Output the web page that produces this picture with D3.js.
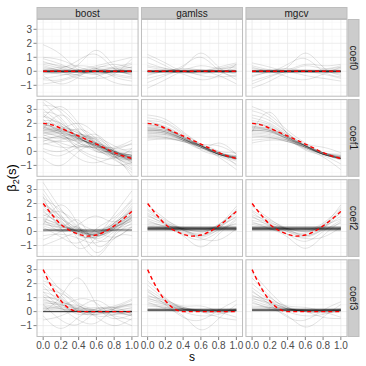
<!DOCTYPE html>
<html>
<head>
<meta charset="utf-8">
<script src="https://cdn.jsdelivr.net/npm/d3@7"></script>
<style>
  body { margin: 0; background: #fff; }
  text { font-family: "Liberation Sans", Arial, Helvetica, sans-serif; }
</style>
</head>
<body>
<svg id="chart" width="366" height="366"></svg>
<script>
// facets
const methods = ["boost", "gamlss", "mgcv"];
const coefs = ["coef0", "coef1", "coef2", "coef3"];
const xTicks = [0, 0.2, 0.4, 0.6, 0.8, 1.0];
const yTicks = [-1, 0, 1, 2, 3];

// s where the estimated curves were read off
const sKnots = [0, 0.2, 0.4, 0.6, 0.8, 1.0];
// s for the true functions
const sTrue = [0, 0.1, 0.2, 0.3, 0.4, 0.5, 0.6, 0.7, 0.8, 0.9, 1.0];

// true functions (red dashed)
const true_coef0 = [0, 0, 0, 0, 0, 0, 0, 0, 0, 0, 0];
const true_coef1 = [2.0, 1.9, 1.65, 1.38, 1.1, 0.82, 0.52, 0.22, -0.08, -0.33, -0.5];
const true_coef2 = [2.0, 1.2, 0.5, 0.08, -0.2, -0.33, -0.25, 0.0, 0.4, 0.88, 1.43];
const true_coef3 = [3.0, 1.72, 0.78, 0.2, 0.0, 0, 0, 0, 0, 0, 0];

// estimated curves (grey), values at sKnots
const boost_coef0 = [
  [1.9,1.2,0.1,-0.2,0,0.1],[1.0,0.8,0.3,0,-0.1,0],[0.9,0.5,0,-0.2,0,0.3],[0.6,0.4,0.1,0,0,0],
  [0.5,0.2,-0.1,0.1,0.2,0.5],[0.3,0.1,0.5,1.5,0.4,-0.3],[0,0.2,0.8,1.2,0.2,-0.2],[-0.3,-0.9,-0.4,0.3,0.2,0],
  [-0.5,-0.3,0,0.2,0,-0.2],[-0.6,-0.6,-0.2,0,0.3,0.6],[-0.9,-0.7,-0.3,0,-0.2,-0.4],[0.2,0,-0.3,-0.5,-0.2,0.9],
  [0,0,0.1,-0.2,-0.8,-1.0],[0.1,0.3,0.4,0.2,-0.4,-0.7],[-0.2,-0.1,0.1,0.4,0.7,1.0],[0.4,0,-0.5,-0.4,0.1,0.3],
  [0,-0.2,-0.2,0.2,0.5,0.2],[0.7,0.3,0,0,-0.3,-0.5]
];
const gamlss_coef0 = [
  [1.2,0.6,0,0,0,0],[1.0,0.4,-0.1,0,0.2,0.5],[0.6,0.2,0.1,0.4,0.2,0.4],[-0.3,0,0.3,1.3,0.3,-0.2],
  [0,0,0.4,1.0,0.1,-0.4],[-1.2,-0.6,0,0.1,0,0.2],[-0.8,-0.3,0,-0.3,-0.4,-0.3],[-0.5,-0.2,0,0,0.3,0.6],
  [0,0,-0.2,-0.6,-0.3,0.5],[0.3,0.1,0,0,-0.3,-0.9],[-0.2,0,0.2,0.1,0,-0.6],[0.4,0.2,0,-0.2,0.1,0.3]
];
const mgcv_coef0 = [
  [0.6,0.3,0,0,0,0.2],[0.4,0.1,0.3,1.3,0.3,-0.3],[0,0,0.5,0.9,0,-0.4],[-0.3,-0.1,0,0.4,0.2,0.4],
  [-0.7,-0.3,0,0.1,0,-0.2],[-1.2,-0.7,-0.1,0,0.1,0.3],[-0.9,-0.4,0,0,-0.2,-0.5],[0.2,0,-0.4,-0.6,-0.2,0.3],
  [0,0.1,0,-0.3,-0.5,-0.7],[0.3,0,0.1,0.5,0.4,0.5],[-0.4,0,0.2,0,0,0]
];
const boost_coef1 = [
  [3.7,2.8,1.4,0.6,-0.2,-0.6],[3.5,2.2,1.0,0.4,0,-0.3],[3.3,3.0,1.8,0.5,-0.4,-1.0],[3.0,2.0,1.3,0.8,0,-0.8],
  [2.8,2.4,0.8,0.2,-0.2,-0.4],[2.6,1.6,1.2,0.6,-0.3,-1.2],[2.5,1.9,0.6,0.3,0.1,0.2],[2.3,1.4,1.6,0.9,-0.2,-0.6],
  [2.2,2.0,1.0,0.3,-0.5,-1.5],[2.1,1.8,1.3,0.7,0.0,-0.3],[2.0,1.5,0.9,0.4,-0.2,-0.7],[1.9,1.7,1.1,0.5,-0.1,-0.4],
  [1.8,1.2,0.7,0.6,0.2,0.6],[1.7,1.6,1.4,0.2,-0.4,-0.8],[1.6,1.3,0.8,0.5,-0.1,-0.2],[1.5,1.5,1.0,0.3,-0.3,-1.8],
  [1.4,1.0,0.9,1.2,0.1,-0.5],[1.3,1.1,0.6,0.0,-0.2,0.0],[1.2,0.9,1.2,0.8,-0.3,-0.6],[1.1,1.2,0.4,0.3,0.3,0.8],
  [1.0,0.7,0.8,0.4,-0.4,-0.9],[0.9,1.1,1.0,0.1,0.0,-0.3],[0.8,0.6,0.3,0.5,-0.2,-0.5],[0.7,1.0,0.2,-0.4,-0.5,0.2],
  [0.6,0.3,0.4,0.6,0.0,-0.4],[0.5,0.8,0.9,0.2,-0.6,-1.3],[2.4,3.2,2.0,0.6,-0.3,-0.7],[1.6,2.6,1.5,0.0,0.2,0.5],
  [1.0,0.4,-0.5,-0.8,-0.4,-0.2],[0.2,0.0,0.6,0.9,0.1,-0.5],[1.9,1.4,0.1,-0.6,-1.0,-0.8],[2.7,1.8,1.1,1.0,0.4,-0.1],
  [1.3,1.6,2.0,1.2,0.0,-0.6],[-0.5,-1.0,0.0,0.4,0.0,-0.3],[0.0,-0.3,0.3,0.2,-0.2,-0.6],
  [1.8,1.5,1.1,0.6,0.0,-0.4],[1.7,1.4,1.0,0.5,-0.1,-0.5],[1.5,1.3,0.9,0.4,-0.1,-0.4],[1.4,1.3,1.0,0.5,0.0,-0.5],
  [1.6,1.4,0.9,0.4,-0.2,-0.5],[1.9,1.6,1.1,0.5,-0.1,-0.4]
];
const gamlss_coef1 = [
  [2.6,2.3,1.4,0.5,-0.2,-0.5],[2.4,2.1,1.3,0.5,-0.1,-0.4],[2.2,2.0,1.2,0.4,-0.2,-0.6],[2.0,1.8,1.1,0.4,-0.1,-0.5],
  [1.9,1.7,1.1,0.4,-0.2,-0.5],[1.8,1.6,1.0,0.4,-0.2,-0.4],[1.7,1.6,1.0,0.4,-0.1,-0.5],[1.6,1.5,1.0,0.4,-0.2,-0.5],
  [1.5,1.4,0.9,0.3,-0.2,-0.4],[1.4,1.3,0.9,0.4,-0.1,-0.3],[1.3,1.3,0.9,0.3,-0.2,-0.6],[1.2,1.2,0.8,0.3,-0.2,-0.5],
  [1.1,1.1,0.8,0.4,-0.1,-0.4],[1.0,1.0,0.7,0.3,-0.2,-0.5],[0.9,0.9,0.7,0.3,-0.2,-0.4],[0.8,0.9,0.8,0.4,-0.1,-0.3],
  [1.6,1.4,0.8,0.2,-0.3,-0.9],[1.9,1.6,0.9,0.5,0.4,-0.2],[1.3,1.2,0.8,0.2,0.6,-0.2],[1.5,1.4,0.9,0.3,-0.4,-1.3],
  [2.2,1.7,1.0,0.5,0.0,-1.0],[1.1,1.0,0.7,0.4,0.0,-0.1],[1.7,1.5,1.0,0.1,-0.3,-0.7],[1.4,1.3,0.8,0.4,-0.2,-0.5],
  [1.5,1.4,0.9,0.4,-0.1,-0.4],[1.6,1.5,0.9,0.3,-0.2,-0.5]
];
const mgcv_coef1 = [
  [3.2,2.6,1.5,0.6,-0.1,-0.5],[2.9,2.4,1.3,0.5,-0.1,-0.4],[2.6,2.2,1.3,0.4,-0.2,-0.6],[2.4,2.0,1.2,0.4,-0.1,-0.5],
  [2.2,1.9,1.1,0.4,-0.2,-0.5],[2.0,1.8,1.1,0.4,-0.2,-0.5],[1.9,1.7,1.0,0.4,-0.1,-0.4],[1.8,1.6,1.0,0.4,-0.2,-0.5],
  [1.7,1.5,1.0,0.4,-0.2,-0.5],[1.6,1.5,0.9,0.3,-0.2,-0.4],[1.5,1.4,0.9,0.4,-0.1,-0.3],[1.4,1.3,0.9,0.3,-0.2,-0.6],
  [1.3,1.2,0.8,0.3,-0.2,-0.5],[1.2,1.1,0.8,0.4,-0.1,-0.4],[1.1,1.0,0.7,0.3,-0.2,-0.5],[1.0,1.0,0.7,0.3,-0.2,-0.4],
  [0.8,0.9,0.8,0.4,-0.1,-0.3],[0.6,0.8,0.7,0.3,-0.1,-0.2],[1.4,2.8,1.2,0.2,-0.2,-0.5],[1.8,1.5,0.8,0.2,-0.4,-1.3],
  [2.1,1.7,1.0,0.5,0.3,-0.1],[1.5,1.4,0.9,0.1,-0.3,-0.9],[1.6,1.5,1.0,0.4,-0.1,-0.5],[1.7,1.6,1.0,0.3,-0.2,-0.5],
  [1.5,1.4,0.9,0.4,-0.2,-0.5]
];
const boost_coef2 = [
  [3.5,1.6,0.2,-0.2,0.6,2.0],[3.0,1.2,-0.2,-0.4,0.4,1.5],[2.7,1.0,0.0,-0.1,0.8,2.2],[2.4,1.5,0.3,-0.5,0.2,1.2],
  [2.2,0.8,-0.3,-0.3,0.5,1.8],[2.0,1.1,0.1,0.0,0.3,1.0],[1.8,0.7,-0.1,-0.2,0.6,1.4],[1.6,0.9,0.2,-0.3,0.1,0.8],
  [1.4,0.5,0.0,0.1,0.5,1.3],[1.2,0.6,-0.2,-0.4,0.3,1.6],[1.0,0.4,0.0,-0.1,0.4,1.1],[0.8,0.3,0.2,0.0,0.6,1.5],
  [0.6,0.2,-0.1,-0.3,0.2,0.9],[0.4,0.1,0.1,0.0,0.4,1.2],[0.2,0.0,0.0,-0.2,0.3,0.7],[0.1,0.1,0.1,0.1,0.2,0.5],
  [0.1,0.1,0.0,0.0,0.1,0.3],[0.0,0.1,0.1,-0.1,0.1,0.1],[-0.3,-0.2,-0.5,-0.8,0.0,0.8],[-0.6,0.0,0.3,-0.6,-0.5,0.3],
  [-1.0,-0.5,-0.1,-0.3,0.2,1.0],[0.5,1.9,0.4,-1.5,-0.2,1.1],[1.5,0.2,-1.2,-0.4,1.2,2.9],[2.5,0.4,0.8,-1.0,-0.3,0.6],
  [0.9,0.0,0.5,1.1,0.7,1.7],[1.9,1.0,-0.6,-1.8,-0.5,-0.3],[0.3,-0.4,-0.8,0.2,1.0,2.3],[1.1,1.4,0.6,0.0,-0.4,0.4],
  [0.7,0.4,0.0,-0.2,0.3,1.0],[0.5,0.3,0.1,-0.1,0.3,0.9],[0.9,0.5,0.0,-0.2,0.4,1.2]
];
const gamlss_coef2 = [
  [1.9,0.9,0.1,-0.2,0.3,1.6],[1.6,0.8,0.2,-0.3,0.4,1.8],[1.3,0.7,0.1,-0.1,0.5,1.4],[1.1,0.6,0.2,0.0,0.3,1.1],
  [0.9,0.5,0.1,-0.4,0.2,1.3],[0.7,0.4,0.2,0.0,0.4,1.0],[1.5,0.6,-0.2,-0.6,0.0,0.9],[0.8,0.3,-0.3,-1.1,-0.2,0.8],
  [0.5,0.3,0.2,0.1,0.5,1.5],[1.2,0.5,0.0,-0.3,0.1,0.6],[0.4,0.2,-0.1,-0.5,-0.6,0.2],[0.6,0.4,0.3,0.2,0.3,0.5]
];
const mgcv_coef2 = [
  [1.8,0.9,0.1,-0.2,0.4,1.9],[1.5,0.8,0.2,-0.3,0.3,1.6],[1.2,0.7,0.1,-0.1,0.5,1.3],[1.0,0.6,0.2,0.0,0.3,1.1],
  [0.8,0.5,0.0,-0.4,0.2,1.4],[0.6,0.4,0.2,0.0,0.4,0.9],[1.4,0.5,-0.2,-0.7,0.0,0.8],[0.7,0.2,-0.4,-1.2,-0.3,0.7],
  [0.5,0.3,0.2,0.1,0.6,1.7],[1.1,0.4,0.0,-0.3,0.1,0.6],[0.3,0.2,-0.2,-0.5,-0.4,0.3]
];
const boost_coef3 = [
  [3.0,1.5,0.4,0.0,0.0,0.0],[2.5,1.2,0.0,-0.2,0.1,0.2],[2.2,1.6,0.6,0.1,-0.2,0.0],[2.0,1.0,0.2,0.2,0.3,0.5],
  [1.8,0.6,-0.2,0.0,0.0,-0.3],[1.6,1.3,0.5,-0.3,-0.2,0.1],[1.4,0.9,0.1,0.0,0.2,0.6],[1.2,0.7,0.3,0.1,-0.1,-0.2],
  [1.0,0.8,0.0,-0.2,0.0,0.3],[0.9,0.5,0.2,0.3,0.1,-0.1],[0.8,0.6,0.4,0.0,-0.3,-0.6],[0.7,0.4,0.0,0.1,0.3,0.8],
  [0.6,0.5,0.2,0.0,0.0,0.0],[0.5,0.3,0.1,-0.1,0.2,0.4],[0.4,0.2,0.0,0.0,0.0,0.0],[0.3,0.2,0.1,0.0,0.0,0.1],
  [0.2,0.1,0.0,0.0,0.0,0.0],[0.1,0.0,0.0,0.0,0.0,0.0],[-0.3,-1.2,-0.4,0.2,0.3,-0.2],[0.0,1.1,2.4,0.5,-0.5,-0.2],
  [0.5,-0.6,-0.9,0.0,0.4,0.9],[1.4,0.3,-0.6,-0.8,0.2,0.5],[0.2,0.4,0.9,0.6,-0.4,-1.0],[1.1,0.2,0.3,0.8,0.1,-0.3],
  [-0.6,-0.3,0.1,-0.4,-1.0,-0.5]
];
const gamlss_coef3 = [
  [2.2,1.0,0.2,0.0,0.0,0.1],[1.9,0.9,0.3,0.1,0.0,0.0],[1.6,0.8,0.2,0.0,0.1,0.2],[1.4,0.7,0.3,0.1,0.0,0.1],
  [1.2,0.6,0.2,0.0,-0.1,0.0],[1.0,0.5,0.2,0.1,0.1,0.1],[0.8,0.5,0.3,0.0,0.0,0.1],[0.6,0.4,0.2,0.1,0.1,0.1],
  [0.5,0.3,0.1,0.1,0.1,0.1],[1.5,0.5,-0.4,-0.6,0.1,0.8],[0.9,0.6,0.0,-0.3,-0.2,0.2],[0.7,0.2,-0.3,-1.3,-0.5,0.5],
  [1.1,0.8,0.4,0.4,0.0,-0.4],[0.4,0.3,0.2,0.0,-0.4,-0.6]
];
const mgcv_coef3 = [
  [2.8,1.4,0.3,0.0,0.0,0.1],[2.4,1.1,0.2,0.1,0.0,0.0],[2.0,1.0,0.3,0.0,0.1,0.2],[1.7,0.8,0.2,0.1,0.0,0.1],
  [1.4,0.7,0.2,0.0,-0.1,0.0],[1.2,0.6,0.3,0.1,0.1,0.1],[1.0,0.5,0.2,0.0,0.0,0.1],[0.8,0.4,0.2,0.1,0.1,0.1],
  [0.6,0.3,0.1,0.1,0.1,0.1],[0.4,0.3,0.1,0.1,0.1,0.1],[1.5,0.5,-0.4,-0.6,0.1,0.7],[0.9,0.6,0.0,-0.3,-0.2,0.2],
  [0.7,0.2,-0.3,-1.1,-0.4,0.5],[1.1,0.8,0.4,0.3,0.0,-0.4],[0.3,0.3,0.2,0.0,-0.4,-0.5]
];

// estimates that came out constant in s (these pile up into the dark bands)
const flat_boost_coef0 = [-0.08,-0.06,-0.04,-0.03,-0.02,-0.01,0,0,0,0.01,0.02,0.03,0.04,0.06,0.08];
const flat_gamlss_coef0 = [-0.08,-0.06,-0.04,-0.03,-0.02,-0.01,0,0,0,0,0.01,0.02,0.03,0.04,0.06,0.08];
const flat_mgcv_coef0 = [-0.08,-0.06,-0.04,-0.03,-0.02,-0.01,0,0,0,0,0.01,0.02,0.03,0.04,0.06,0.08];
const flat_boost_coef1 = [];
const flat_gamlss_coef1 = [];
const flat_mgcv_coef1 = [];
const flat_boost_coef2 = [0.05,0.08,0.1,0.12,0.15];
const flat_gamlss_coef2 = [0.08,0.1,0.12,0.14,0.15,0.16,0.17,0.18,0.19,0.2,0.21,0.22,0.23,0.24,0.25,0.26,0.27,0.28,0.3,0.32,0.35];
const flat_mgcv_coef2 = [0.08,0.1,0.12,0.14,0.15,0.16,0.17,0.18,0.19,0.2,0.21,0.22,0.23,0.24,0.25,0.26,0.28,0.3,0.32,0.35];
const flat_boost_coef3 = [-0.02,-0.01,0,0,0,0,0.01,0.02];
const flat_gamlss_coef3 = [0.04,0.06,0.08,0.09,0.1,0.1,0.11,0.12,0.13,0.14,0.16,0.18,0.2];
const flat_mgcv_coef3 = [0.04,0.06,0.08,0.09,0.1,0.1,0.11,0.12,0.13,0.14,0.16,0.18,0.2];

const estimates = {
  boost: {coef0: boost_coef0, coef1: boost_coef1, coef2: boost_coef2, coef3: boost_coef3},
  gamlss: {coef0: gamlss_coef0, coef1: gamlss_coef1, coef2: gamlss_coef2, coef3: gamlss_coef3},
  mgcv: {coef0: mgcv_coef0, coef1: mgcv_coef1, coef2: mgcv_coef2, coef3: mgcv_coef3}
};
const flats = {
  boost: {coef0: flat_boost_coef0, coef1: flat_boost_coef1, coef2: flat_boost_coef2, coef3: flat_boost_coef3},
  gamlss: {coef0: flat_gamlss_coef0, coef1: flat_gamlss_coef1, coef2: flat_gamlss_coef2, coef3: flat_gamlss_coef3},
  mgcv: {coef0: flat_mgcv_coef0, coef1: flat_mgcv_coef1, coef2: flat_mgcv_coef2, coef3: flat_mgcv_coef3}
};
const truth = {coef0: true_coef0, coef1: true_coef1, coef2: true_coef2, coef3: true_coef3};

// layout
const padLeft = 36.5, padRight = 347.5, padTop = 19, padBottom = 337, gap = 2.4;
const pw = (padRight - padLeft - 2 * gap) / 3;
const ph = (padBottom - padTop - 3 * gap) / 4;

const svg = d3.select("#chart");

const x = d3.scaleLinear().domain([-0.075, 1.075]).range([0, pw]);
const y = d3.scaleLinear().domain([-1.814, 3.736]).range([ph, 0]);

const xMinor = [0.1, 0.3, 0.5, 0.7, 0.9];
const yMinor = [-1.5, -0.5, 0.5, 1.5, 2.5, 3.5];

const line = d3.line().x(d => x(d[0])).y(d => y(d[1])).curve(d3.curveNatural);
const trueLine = d3.line().x(d => x(d[0])).y(d => y(d[1])).curve(d3.curveMonotoneX);

coefs.forEach(function(cf, r){
  methods.forEach(function(m, c){
    let px = padLeft + c * (pw + gap);
    let py = padTop + r * (ph + gap);
    let g = svg.append("g").attr("transform", `translate(${px},${py})`);
    let clipId = `clip-${m}-${cf}`;
    g.append("clipPath").attr("id", clipId)
      .append("rect").attr("width", pw).attr("height", ph);

    g.append("rect").attr("width", pw).attr("height", ph).attr("fill", "#fff");

    // grid
    g.selectAll(".xminor").data(xMinor).enter().append("line")
      .attr("x1", d => x(d)).attr("x2", d => x(d)).attr("y1", 0).attr("y2", ph)
      .attr("stroke", "#F4F4F4").attr("stroke-width", 0.5);
    g.selectAll(".yminor").data(yMinor).enter().append("line")
      .attr("x1", 0).attr("x2", pw).attr("y1", d => y(d)).attr("y2", d => y(d))
      .attr("stroke", "#F4F4F4").attr("stroke-width", 0.5);
    g.selectAll(".xmajor").data(xTicks).enter().append("line")
      .attr("x1", d => x(d)).attr("x2", d => x(d)).attr("y1", 0).attr("y2", ph)
      .attr("stroke", "#E6E6E6").attr("stroke-width", 0.7);
    g.selectAll(".ymajor").data(yTicks).enter().append("line")
      .attr("x1", 0).attr("x2", pw).attr("y1", d => y(d)).attr("y2", d => y(d))
      .attr("stroke", "#E6E6E6").attr("stroke-width", 0.7);

    let inner = g.append("g").attr("clip-path", `url(#${clipId})`);

    // constant estimates
    inner.selectAll(".flat").data(flats[m][cf]).enter().append("line")
      .attr("x1", x(0)).attr("x2", x(1))
      .attr("y1", d => y(d)).attr("y2", d => y(d))
      .attr("stroke", "#000").attr("stroke-opacity", 0.22).attr("stroke-width", 0.7);

    // estimated curves
    inner.selectAll(".est").data(estimates[m][cf]).enter().append("path")
      .attr("d", d => line(d.map((v, i) => [sKnots[i], v])))
      .attr("fill", "none")
      .attr("stroke", "#000").attr("stroke-opacity", 0.19).attr("stroke-width", 0.6);

    // true function
    inner.append("path")
      .attr("d", trueLine(truth[cf].map((v, i) => [sTrue[i], v])))
      .attr("fill", "none")
      .attr("stroke", "#FF0000").attr("stroke-width", 1.4)
      .attr("stroke-dasharray", "4,3");

    // border
    g.append("rect").attr("x", 0.5).attr("y", 0.5).attr("width", pw - 1).attr("height", ph - 1)
      .attr("fill", "none").attr("stroke", "#BDBDBD").attr("stroke-width", 1);

    // y axis on first column
    if(c == 0){
      let ya = g.append("g");
      yTicks.forEach(function(t){
        ya.append("line").attr("x1", -3).attr("x2", 0).attr("y1", y(t)).attr("y2", y(t))
          .attr("stroke", "#333").attr("stroke-width", 0.6);
        ya.append("text").attr("x", -4.5).attr("y", y(t)).attr("dy", "0.35em")
          .attr("text-anchor", "end").attr("font-size", 10).attr("fill", "#4D4D4D")
          .text(t < 0 ? "\u2212" + Math.abs(t) : t);
      });
    }
    // x axis on last row
    if(r == coefs.length - 1){
      let xa = g.append("g");
      xTicks.forEach(function(t){
        xa.append("line").attr("x1", x(t)).attr("x2", x(t)).attr("y1", ph).attr("y2", ph + 3)
          .attr("stroke", "#333").attr("stroke-width", 0.6);
        xa.append("text").attr("x", x(t)).attr("y", ph + 12.5)
          .attr("text-anchor", "middle").attr("font-size", 10).attr("fill", "#4D4D4D")
          .text(d3.format(".1f")(t));
      });
    }
    // top strips
    if(r == 0){
      g.append("rect").attr("x", 0.5).attr("y", -11.5).attr("width", pw - 1).attr("height", 11)
        .attr("fill", "#CCCCCC").attr("stroke", "#BDBDBD").attr("stroke-width", 1);
      g.append("text").attr("x", pw / 2).attr("y", -6).attr("dy", "0.35em")
        .attr("text-anchor", "middle").attr("font-size", 10).attr("fill", "#1A1A1A")
        .text(m);
    }
    // right strips
    if(c == methods.length - 1){
      g.append("rect").attr("x", pw + 0.5).attr("y", 0.5).attr("width", 11).attr("height", ph - 1)
        .attr("fill", "#CCCCCC").attr("stroke", "#BDBDBD").attr("stroke-width", 1);
      g.append("text")
        .attr("transform", `translate(${pw + 6},${ph / 2}) rotate(90)`)
        .attr("dy", "0.35em").attr("text-anchor", "middle")
        .attr("font-size", 10).attr("fill", "#1A1A1A")
        .text(cf);
    }
  });
});

// axis titles
svg.append("text").attr("x", padLeft + (padRight - padLeft) / 2).attr("y", 361)
  .attr("text-anchor", "middle").attr("font-size", 12).attr("fill", "#000")
  .text("s");

let yt = svg.append("text")
  .attr("transform", `translate(16,${padTop + (padBottom - padTop) / 2}) rotate(-90)`)
  .attr("text-anchor", "middle").attr("font-size", 13).attr("fill", "#000");
yt.append("tspan").text("\u03B2");
yt.append("tspan").attr("font-size", 9).attr("dy", 3).text("2");
yt.append("tspan").attr("dy", -3).text("(s)");
</script>
</body>
</html>
